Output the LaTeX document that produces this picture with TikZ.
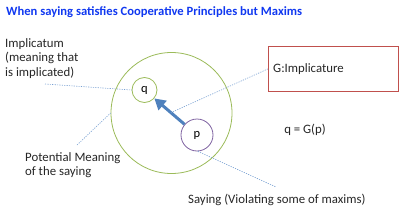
\documentclass[tikz,border=0pt]{standalone}
\usepackage{fontspec}
\setmainfont{Carlito}
\usepackage{tikz}
\usetikzlibrary{positioning,arrows.meta,calc}
\definecolor{titleblue}{RGB}{16,56,240}
\definecolor{ringgreen}{RGB}{155,187,89}
\definecolor{ringpurple}{RGB}{128,100,162}
\definecolor{boxred}{RGB}{192,80,77}
\definecolor{arrowblue}{RGB}{79,129,189}
\definecolor{dotblue}{RGB}{120,160,210}
\tikzset{
  figlabel/.style={font=\fontsize{12.8}{14.8}\selectfont, align=left, inner sep=0pt, text=black!85},
  figring/.style={circle, draw=ringgreen, line width=0.8pt, inner sep=0pt},
  figdot/.style={draw=dotblue, line width=0.6pt, dash pattern=on 1.2pt off 1.2pt},
  figarrow/.style={draw=arrowblue, line width=3pt, -{Triangle[length=11pt, width=12pt]}},
}

\begin{document}
\begin{tikzpicture}[x=1pt, y=-1pt]
  \useasboundingbox (0,0) rectangle (400,209);
  \node[anchor=west, inner sep=0pt, font=\fontsize{12.6}{14}\selectfont\bfseries, text=titleblue] (title) at (6,12) {When saying satisfies Cooperative Principles but Maxims};

  % circles
  \node[figring, minimum size=121pt] (big) at (171.5,113) {};
  \node[figring, minimum size=25pt, font=\fontsize{12.5}{14}\selectfont] (q) at (144.5,90) {q};
  \node[circle, draw=ringpurple, line width=0.8pt, inner sep=0pt, minimum size=32pt, font=\fontsize{12.5}{14}\selectfont] (p) at (197,135) {p};
  \draw[figarrow] (p) -- coordinate[pos=0.45] (mid) (q);

  % box and formula
  \node[draw=boxred, line width=0.8pt, minimum width=130pt, minimum height=45pt, anchor=north west] (box) at (268,46) {};
  \node[figlabel, anchor=west] (impl) at ($(box.west)+(5,0)$) {G:Implicature};
  \node[figlabel] (eq) at (305,130) {q = G(p)};

  % labels
  \node[figlabel, anchor=north west] (lab1) at (5,38) {Implicatum\\(meaning that\\is implicated)};
  \node[figlabel, anchor=north west] (lab2) at (25,152) {Potential Meaning\\of the saying};
  \node[figlabel, anchor=north west] (lab3) at (188,194) {Saying (Violating some of maxims)};

  % dotted pointers
  \coordinate (e1) at (45,84);
  \coordinate (e2) at (77,145);
  \coordinate (e3) at (276,187);
  \draw[figdot] (e1) -- (q.west);
  \draw[figdot] (e2) -- (big.west);
  \draw[figdot] (box.west) -- (mid);
  \draw[figdot] (p.-87) -- (e3);
\end{tikzpicture}
\end{document}
